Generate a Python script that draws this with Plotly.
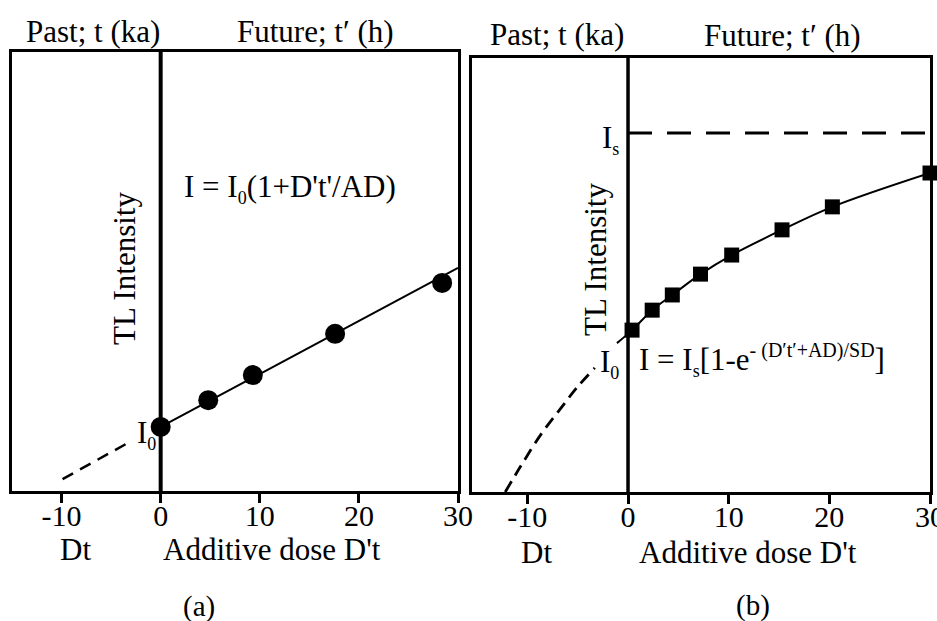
import plotly.graph_objects as go

W, H = 937, 621
FONT = "Liberation Serif, Times New Roman, serif"

# ---------------- data ----------------
tick_vals = [-10, 0, 10, 20, 30]
tick_text = ["-10", "0", "10", "20", "30"]

# panel (a): linear growth
a_pts_x = [0, 4.8, 9.3, 17.6, 28.4]
a_pts_y = [14.6, 20.7, 26.4, 35.8, 47.4]
a_fit_x = [0, 30]
a_fit_y = [14.6, 50.8]
a_ext_x = [-9.9, -3.1]
a_ext_y = [2.7, 11.2]

# panel (b): saturating growth
b_pts_x = [0.4, 2.4, 4.4, 7.2, 10.3, 15.3, 20.3, 30.0]
b_pts_y = [37.3, 41.9, 45.4, 50.2, 54.6, 60.4, 65.7, 73.5]
b_curve_x = [-1.1, 0.4, 2.4, 4.4, 7.2, 10.3, 15.3, 20.3, 30.0]
b_curve_y = [34.3, 37.3, 41.9, 45.4, 50.2, 54.6, 60.4, 65.7, 73.5]
b_ext_x = [-12.2, -10.7, -8.7, -6.8, -5.1, -3.3]
b_ext_y = [0, 5.8, 13.1, 18.9, 24.0, 28.6]
b_sat_x = [0, 30]
b_sat_y = [82.7, 82.7]

fig = go.Figure()

# panel (a)
fig.add_trace(go.Scatter(x=a_ext_x, y=a_ext_y, mode="lines", xaxis="x", yaxis="y",
                         line=dict(color="black", width=2.5, dash="12px,8px")))
fig.add_trace(go.Scatter(x=a_fit_x, y=a_fit_y, mode="lines", xaxis="x", yaxis="y",
                         line=dict(color="black", width=2)))
fig.add_trace(go.Scatter(x=a_pts_x, y=a_pts_y, mode="markers", xaxis="x", yaxis="y",
                         marker=dict(symbol="circle", size=20, color="black"), cliponaxis=False))

# panel (b)
fig.add_trace(go.Scatter(x=b_ext_x, y=b_ext_y, mode="lines", xaxis="x2", yaxis="y2",
                         line=dict(color="black", width=2.8, dash="12px,7px", shape="spline")))
fig.add_trace(go.Scatter(x=b_sat_x, y=b_sat_y, mode="lines", xaxis="x2", yaxis="y2",
                         line=dict(color="black", width=3, dash="24px,15px")))
fig.add_trace(go.Scatter(x=b_curve_x, y=b_curve_y, mode="lines", xaxis="x2", yaxis="y2",
                         line=dict(color="black", width=2, shape="spline"), cliponaxis=False))
fig.add_trace(go.Scatter(x=b_pts_x, y=b_pts_y, mode="markers", xaxis="x2", yaxis="y2",
                         marker=dict(symbol="square", size=15, color="black"), cliponaxis=False))


def xd(p0, p1):
    return [p0 / W, p1 / W]


def yd(top, bottom):
    return [1 - bottom / H, 1 - top / H]


axis_common = dict(showline=True, mirror=True, linecolor="black", linewidth=3,
                   showgrid=False, zeroline=False, automargin=False)
xcommon = dict(axis_common, ticks="outside", ticklen=9, tickwidth=2.5, tickcolor="black",
               tickvals=tick_vals, ticktext=tick_text, ticklabelstandoff=-13,
               ticklabeloverflow="allow",
               tickfont=dict(family=FONT, size=30, color="black"))
ycommon = dict(axis_common, ticks="", showticklabels=False, range=[0, 100])

fig.update_layout(
    width=W, height=H, autosize=False,
    margin=dict(l=0, r=0, t=0, b=0),
    paper_bgcolor="white", plot_bgcolor="white",
    showlegend=False,
    font=dict(family=FONT, color="black", size=31),
    xaxis=dict(xcommon, domain=xd(12, 458), range=[-15, 30], anchor="y"),
    yaxis=dict(ycommon, domain=yd(52, 491), anchor="x"),
    xaxis2=dict(xcommon, domain=xd(472, 930), range=[-15.5, 30], anchor="y2"),
    yaxis2=dict(ycommon, domain=yd(58, 492), anchor="x2"),
    shapes=[
        dict(type="line", xref="x", yref="y domain", x0=0, x1=0, y0=0, y1=1,
             line=dict(color="black", width=4)),
        dict(type="line", xref="x2", yref="y2 domain", x0=0, x1=0, y0=0, y1=1,
             line=dict(color="black", width=3.5)),
    ],
)


def ann(text, px, py, size=31, angle=0, xanchor="center"):
    return dict(text=text, x=px / W, y=1 - py / H, xref="paper", yref="paper",
                showarrow=False, textangle=angle, xanchor=xanchor, yanchor="middle",
                font=dict(family=FONT, size=size, color="black"))


sub0 = "<sub><span style='font-size:18px'>0</span></sub>"
subs = "<sub><span style='font-size:18px'>s</span></sub>"
sup_eq = "<sup><span style='font-size:20px'>- (D\u2032t\u2032+AD)/SD</span></sup>"

annotations = [
    # panel (a)
    ann("Past; t (ka)", 93, 31),
    ann("Future; t\u2032 (h)", 315, 31),
    ann("TL Intensity", 125, 268, angle=-90),
    ann("I = I" + sub0 + "(1+D't'/AD)", 290, 188),
    ann("I" + sub0, 146, 434),
    ann("Dt", 75, 549),
    ann("Additive dose D't", 272, 549),
    ann("(a)", 199, 606, size=29),
    # panel (b)
    ann("Past; t (ka)", 557, 34),
    ann("Future; t\u2032 (h)", 782, 35),
    ann("TL Intensity", 595, 260, angle=-90),
    ann("I" + subs, 610, 139),
    ann("I" + sub0, 609, 363),
    ann("I = I" + subs + "[1-e" + sup_eq + "]", 762, 360),
    ann("Dt", 536, 552),
    ann("Additive dose D't", 748, 552),
    ann("(b)", 753, 605, size=29),
]
fig.update_layout(annotations=annotations)

fig.write_html("out.html", config={"responsive": False})
